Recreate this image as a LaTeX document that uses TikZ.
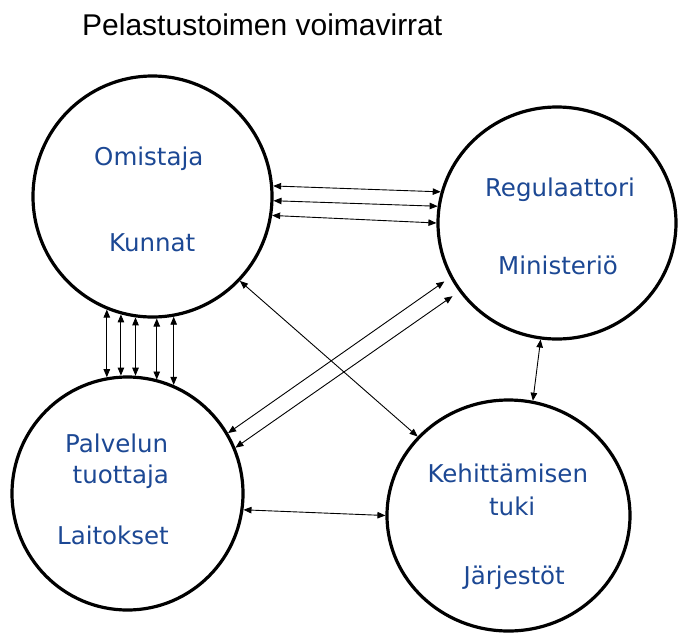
\documentclass[tikz,border=0pt]{standalone}
\usepackage{fontspec}
\setmainfont{DejaVu Sans}
\newfontfamily\titlefont{Liberation Sans}
\usetikzlibrary{shapes.geometric,arrows.meta}
\definecolor{txtblue}{RGB}{28,72,148}
\begin{document}
\begin{tikzpicture}[x=1pt,y=-1pt,
  ring/.style={ellipse, draw, line width=3.2pt, inner sep=0pt},
  lbl/.style={text=txtblue, font=\fontsize{24.5}{28}\selectfont, anchor=base, inner sep=0pt},
  link/.style={{Triangle[length=8pt,width=6.5pt]}-{Triangle[length=8pt,width=6.5pt]}, line width=0.9pt}]
\useasboundingbox[fill=white] (0,0) rectangle (678,633);
% title
\node[font=\titlefont\fontsize{30}{36}\selectfont, anchor=base west, inner sep=0pt] (title) at (82,35) {Pelastustoimen voimavirrat};
% circles
\node[ring, minimum width=239pt, minimum height=241pt] (own) at (152.5,196.5) {};
\node[ring, minimum width=238pt, minimum height=232pt] (reg) at (557,223) {};
\node[ring, minimum width=231pt, minimum height=233pt] (prod) at (127.5,493.5) {};
\node[ring, minimum width=243pt, minimum height=231pt] (dev) at (508.5,515.5) {};
% labels
\node[lbl] (t1) at (148.8,165.7) {Omistaja};
\node[lbl] (t2) at (152.2,251) {Kunnat};
\node[lbl] (t3) at (560,196.7) {Regulaattori};
\node[lbl] (t4) at (558,274) {Ministeriö};
\node[lbl] (t5) at (116.7,452.3) {Palvelun};
\node[lbl] (t6) at (120.8,483) {tuottaja};
\node[lbl] (t7) at (113,544) {Laitokset};
\node[lbl] (t8) at (507.8,482) {Kehittämisen};
\node[lbl] (t9) at (512.2,515.7) {tuki};
\node[lbl] (t10) at (514.2,584) {Järjestöt};
% connectors own - reg
\draw[link] (own.5.5) -- (reg.165.8);
\draw[link] (own.-2.1) -- (reg.172.8);
\draw[link] (own.-9.2) -- (reg.180);
% vertical own - prod
\draw[link] (own.-112.3) -- (own.-112.3 |- prod.100.2);
\draw[link] (own.-105.2) -- (own.-105.2 |- prod.93.2);
\draw[link] (own.-98.1) -- (own.-98.1 |- prod.86);
\draw[link] (own.-88.1) -- (own.-88.1 |- prod.75.5);
\draw[link] (own.-80.9) -- (own.-80.9 |- prod.67.7);
% diagonals
\draw[link] (own.-44.1) -- (dev.139.9);
\draw[link, shorten >=7pt] (prod.31.3) -- (reg.-153.8);
\draw[link, shorten >=8pt] (prod.23.9) -- (reg.-145.9);
% bottom
\draw[link] (prod.-8.3) -- (dev.180.6);
\draw[link] (reg.-98.7) -- (dev.78.2);
\end{tikzpicture}
\end{document}
